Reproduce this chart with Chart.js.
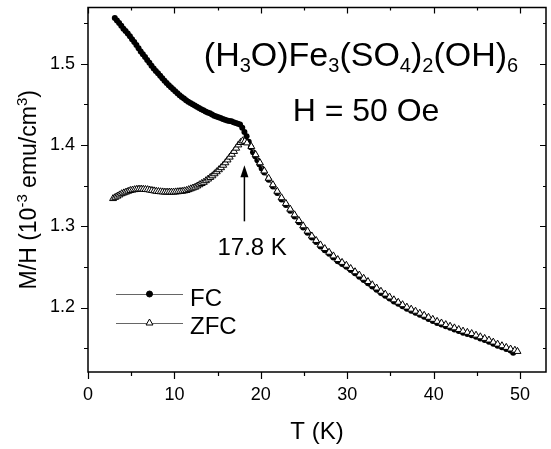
<!DOCTYPE html>
<html>
<head>
<meta charset="utf-8">
<script src="https://cdn.jsdelivr.net/npm/chart.js@4.4.1/dist/chart.umd.min.js"></script>
<style>
  html, body { margin: 0; padding: 0; background: #fff; }
  #wrap { width: 551px; height: 449px; }
</style>
</head>
<body>
<div id="wrap"><canvas id="mh"></canvas></div>
<script>
// field cooled
const fcT = [3.1, 3.35, 3.6, 3.85, 4.1, 4.35, 4.6, 4.85, 5.1, 5.35, 5.6, 5.85, 6.1, 6.35, 6.6, 6.85,
  7.1, 7.35, 7.6, 7.85, 8.1, 8.35, 8.6, 8.85, 9.1, 9.35, 9.6, 9.85, 10.1, 10.35, 10.6, 10.85,
  11.1, 11.35, 11.6, 11.85, 12.1, 12.35, 12.6, 12.85, 13.1, 13.35, 13.6, 13.85, 14.1, 14.35, 14.6, 14.85,
  15.1, 15.35, 15.6, 15.85, 16.1, 16.35, 16.6, 16.85, 17.1, 17.35, 17.6, 17.85, 18.1, 18.35, 18.6, 18.85,
  19.1, 19.35, 19.6, 19.85, 20.1,
  20.4, 20.9, 21.4, 21.9, 22.4, 22.9, 23.4, 23.9, 24.4, 24.9, 25.4, 25.9, 26.4, 26.9, 27.4, 27.9,
  28.4, 28.9, 29.4, 29.9, 30.4, 30.9, 31.4, 31.9, 32.4, 32.9, 33.4, 33.9, 34.4, 34.9, 35.4, 35.9,
  36.4, 36.9, 37.4, 37.9, 38.4, 38.9, 39.4, 39.9, 40.4, 40.9, 41.4, 41.9, 42.4, 42.9, 43.4, 43.9,
  44.4, 44.9, 45.4, 45.9, 46.4, 46.9, 47.4, 47.9, 48.4, 48.9, 49.2];
const fcM = [1.556, 1.553, 1.550, 1.5465, 1.543, 1.540, 1.537, 1.5335, 1.530, 1.5265, 1.523, 1.519, 1.515, 1.5115, 1.508, 1.5045,
  1.501, 1.4975, 1.494, 1.491, 1.488, 1.485, 1.482, 1.479, 1.476, 1.4735, 1.471, 1.4685, 1.466, 1.4635, 1.461, 1.459,
  1.457, 1.455, 1.453, 1.4515, 1.450, 1.4485, 1.447, 1.4455, 1.444, 1.4425, 1.441, 1.440, 1.439, 1.4375, 1.436, 1.435,
  1.434, 1.433, 1.432, 1.431, 1.430, 1.4295, 1.429, 1.428, 1.427, 1.426, 1.425, 1.421, 1.416, 1.4105, 1.404, 1.397,
  1.391, 1.386, 1.381, 1.376, 1.371,
  1.366, 1.357, 1.349, 1.341, 1.333, 1.326, 1.319, 1.312, 1.305, 1.2985, 1.292, 1.286, 1.2805, 1.275, 1.2705, 1.266,
  1.2615, 1.257, 1.2535, 1.250, 1.246, 1.242, 1.238, 1.234, 1.230, 1.226, 1.222, 1.218, 1.2145, 1.211, 1.2075, 1.2045,
  1.2015, 1.1985, 1.196, 1.1935, 1.191, 1.1885, 1.186, 1.1835, 1.181, 1.179, 1.177, 1.175, 1.173, 1.171, 1.169, 1.1675,
  1.166, 1.164, 1.162, 1.160, 1.158, 1.1555, 1.153, 1.151, 1.149, 1.147, 1.1445];

// zero field cooled
const zfcT = [2.9, 3.15, 3.4, 3.65, 3.9, 4.15, 4.4, 4.65, 4.9, 5.15, 5.4, 5.65, 5.9, 6.15, 6.4, 6.65,
  6.9, 7.15, 7.4, 7.65, 7.9, 8.15, 8.4, 8.65, 8.9, 9.15, 9.4, 9.65, 9.9, 10.15, 10.4, 10.65,
  10.9, 11.15, 11.4, 11.65, 11.9, 12.15, 12.4, 12.65, 12.9, 13.15, 13.4, 13.65, 13.9, 14.15, 14.4, 14.65,
  14.9, 15.15, 15.4, 15.65, 15.9, 16.15, 16.4, 16.65, 16.9, 17.15, 17.4, 17.65, 17.9, 18.15, 18.4,
  18.9, 19.4, 19.9, 20.4, 20.9, 21.4, 21.9, 22.4, 22.9, 23.4, 23.9, 24.4, 24.9, 25.4, 25.9, 26.4,
  26.9, 27.4, 27.9, 28.4, 28.9, 29.4, 29.9, 30.4, 30.9, 31.4, 31.9, 32.4, 32.9, 33.4, 33.9, 34.4,
  34.9, 35.4, 35.9, 36.4, 36.9, 37.4, 37.9, 38.4, 38.9, 39.4, 39.9, 40.4, 40.9, 41.4, 41.9, 42.4,
  42.9, 43.4, 43.9, 44.4, 44.9, 45.4, 45.9, 46.4, 46.9, 47.4, 47.9, 48.4, 48.9, 49.4, 49.7];
const zfcM = [1.334, 1.3355, 1.337, 1.3385, 1.340, 1.341, 1.342, 1.343, 1.344, 1.3445, 1.345, 1.3455, 1.3457, 1.3457, 1.3455, 1.3452,
  1.345, 1.3445, 1.344, 1.3435, 1.343, 1.3427, 1.3424, 1.3422, 1.342, 1.342, 1.342, 1.342, 1.342, 1.3422, 1.3424, 1.3427,
  1.343, 1.3435, 1.344, 1.345, 1.346, 1.347, 1.348, 1.3495, 1.351, 1.3525, 1.354, 1.356, 1.358, 1.360, 1.362, 1.3645,
  1.367, 1.3695, 1.372, 1.375, 1.378, 1.3815, 1.385, 1.3885, 1.392, 1.396, 1.400, 1.403, 1.405, 1.4045, 1.4025,
  1.398, 1.388, 1.378, 1.368, 1.359, 1.351, 1.343, 1.335, 1.328, 1.321, 1.314, 1.307, 1.3005, 1.294, 1.288, 1.2825,
  1.277, 1.2725, 1.268, 1.2635, 1.259, 1.2555, 1.252, 1.248, 1.244, 1.240, 1.236, 1.232, 1.228, 1.224, 1.220, 1.2165,
  1.213, 1.2095, 1.2065, 1.2035, 1.2005, 1.198, 1.1955, 1.193, 1.1905, 1.188, 1.1855, 1.183, 1.181, 1.179, 1.177, 1.175,
  1.173, 1.171, 1.1695, 1.168, 1.166, 1.164, 1.162, 1.160, 1.1575, 1.155, 1.153, 1.151, 1.149, 1.1475, 1.146];

const xMajor = [0, 10, 20, 30, 40, 50];
const yMajor = [1.2, 1.3, 1.4, 1.5];

const FONT = "'Liberation Sans', Arial, Helvetica, sans-serif";

function isMajor(v, list) {
  return list.some(m => Math.abs(m - v) < 1e-6);
}

// draw a run of text pieces with sub/superscripts, centred on cx
function drawRich(ctx, parts, cx, baseY, size, small, shift) {
  let w = 0;
  parts.forEach(p => {
    ctx.font = (p[1] ? small : size) + 'px ' + FONT;
    p.w = ctx.measureText(p[0]).width;
    w += p.w;
  });
  let x = cx - w / 2;
  parts.forEach(p => {
    ctx.font = (p[1] ? small : size) + 'px ' + FONT;
    let dy = 0;
    if (p[1] === 'sub') dy = shift;
    if (p[1] === 'sup') dy = -shift;
    ctx.fillText(p[0], x, baseY + dy);
    x += p.w;
  });
}

const decor = {
  id: 'decor',
  afterDraw(chart) {
    const { ctx, chartArea: a, scales: { x, y } } = chart;
    ctx.save();
    ctx.strokeStyle = '#000';
    ctx.fillStyle = '#000';

    // frame
    ctx.lineWidth = 1.5;
    ctx.strokeRect(a.left, a.top, a.right - a.left, a.bottom - a.top);

    // ticks: outside on left/bottom, inside on top/right
    ctx.lineWidth = 1.2;
    ctx.beginPath();
    x.ticks.forEach(t => {
      const px = Math.round(x.getPixelForValue(t.value)) + 0.5;
      const len = isMajor(t.value, xMajor) ? 7 : 4;
      ctx.moveTo(px, a.bottom); ctx.lineTo(px, a.bottom + len);
      ctx.moveTo(px, a.top); ctx.lineTo(px, a.top + len - 1);
    });
    y.ticks.forEach(t => {
      const py = Math.round(y.getPixelForValue(t.value)) + 0.5;
      const len = isMajor(t.value, yMajor) ? 7 : 4;
      ctx.moveTo(a.left, py); ctx.lineTo(a.left - len, py);
      ctx.moveTo(a.right, py); ctx.lineTo(a.right - len + 1, py);
    });
    ctx.stroke();

    // y axis title
    ctx.save();
    ctx.translate(36, (a.top + a.bottom) / 2);
    ctx.rotate(-Math.PI / 2);
    ctx.textBaseline = 'alphabetic';
    drawRich(ctx, [['M/H (10'], ['-3', 'sup'], [' emu/cm'], ['3', 'sup'], [')']], 0, 0, 23, 15, 9);
    ctx.restore();

    // compound and field
    ctx.textBaseline = 'alphabetic';
    drawRich(ctx, [['(H'], ['3', 'sub'], ['O)Fe'], ['3', 'sub'], ['(SO'], ['4', 'sub'], [')'], ['2', 'sub'],
      ['(OH)'], ['6', 'sub']], 361, 66, 34, 20, 6);
    drawRich(ctx, [['H = 50 Oe']], 366, 121, 32, 20, 0);

    // arrow at the transition
    const ax = x.getPixelForValue(18.1);
    const yTip = y.getPixelForValue(1.375);
    const yEnd = y.getPixelForValue(1.306);
    ctx.lineWidth = 1.5;
    ctx.beginPath();
    ctx.moveTo(ax, yEnd); ctx.lineTo(ax, yTip + 8);
    ctx.stroke();
    ctx.beginPath();
    ctx.moveTo(ax, yTip); ctx.lineTo(ax - 4, yTip + 12); ctx.lineTo(ax + 4, yTip + 12);
    ctx.closePath(); ctx.fill();
    ctx.font = '24px ' + FONT;
    ctx.textAlign = 'center';
    ctx.textBaseline = 'middle';
    ctx.fillText('17.8 K', x.getPixelForValue(19.0), y.getPixelForValue(1.273));

    // legend
    const ds = chart.data.datasets;
    const rows = [[ds[1], 294, 299], [ds[0], 323, 327]];
    rows.forEach(r => {
      const d = r[0];
      ctx.strokeStyle = '#666';
      ctx.lineWidth = 1;
      ctx.beginPath();
      ctx.moveTo(116, r[1] + 0.5); ctx.lineTo(183, r[1] + 0.5);
      ctx.stroke();
      ctx.strokeStyle = '#000';
      ctx.fillStyle = d.pointBackgroundColor;
      ctx.lineWidth = 1;
      Chart.helpers.drawPoint(ctx, { pointStyle: d.pointStyle, radius: d.pointRadius, borderWidth: 1 }, 149.5, r[1]);
      ctx.fillStyle = '#000';
      ctx.font = '24px ' + FONT;
      ctx.textAlign = 'left';
      ctx.textBaseline = 'middle';
      ctx.fillText(d.label, 190, r[2]);
    });
    ctx.restore();
  }
};

new Chart(document.getElementById('mh'), {
  type: 'scatter',
  data: {
    datasets: [
      {
        label: 'ZFC',
        data: zfcT.map((t, i) => ({ x: t, y: zfcM[i] })),
        showLine: true,
        borderColor: '#555',
        borderWidth: 1,
        pointStyle: 'triangle',
        pointRadius: 4,
        pointBackgroundColor: '#fff',
        pointBorderColor: '#000',
        pointBorderWidth: 1,
        order: 1
      },
      {
        label: 'FC',
        data: fcT.map((t, i) => ({ x: t, y: fcM[i] })),
        showLine: true,
        borderColor: '#555',
        borderWidth: 1,
        pointStyle: 'circle',
        pointRadius: 3,
        pointBackgroundColor: '#000',
        pointBorderColor: '#000',
        pointBorderWidth: 0,
        order: 2
      }
    ]
  },
  options: {
    responsive: true,
    maintainAspectRatio: false,
    animation: false,
    layout: { padding: { top: 7.5, right: 1, left: 0, bottom: 0 } },
    plugins: {
      legend: { display: false },
      tooltip: { enabled: false }
    },
    scales: {
      x: {
        type: 'linear',
        min: 0,
        max: 53,
        grid: { display: false, drawTicks: true, tickLength: 7 },
        border: { display: false },
        ticks: {
          stepSize: 5,
          includeBounds: false,
          autoSkip: false,
          maxRotation: 0,
          padding: 5,
          color: '#000',
          font: { family: FONT, size: 18 },
          callback: v => isMajor(v, xMajor) ? String(Math.round(v)) : ''
        },
        title: {
          display: true,
          text: 'T (K)',
          color: '#000',
          font: { family: FONT, size: 24 },
          padding: { top: 0, bottom: 2 }
        },
        afterFit: s => { s.height = 77; s.paddingLeft = 0; s.paddingRight = 0; }
      },
      y: {
        type: 'linear',
        min: 1.1207,
        max: 1.569,
        grid: { display: false, drawTicks: true, tickLength: 7 },
        border: { display: false },
        ticks: {
          stepSize: 0.05,
          includeBounds: false,
          autoSkip: false,
          padding: 6,
          color: '#000',
          font: { family: FONT, size: 18 },
          callback: v => isMajor(v, yMajor) ? v.toFixed(1) : ''
        },
        afterFit: s => { s.width = 88; s.paddingTop = 0; s.paddingBottom = 0; }
      }
    }
  },
  plugins: [decor]
});
</script>
</body>
</html>
